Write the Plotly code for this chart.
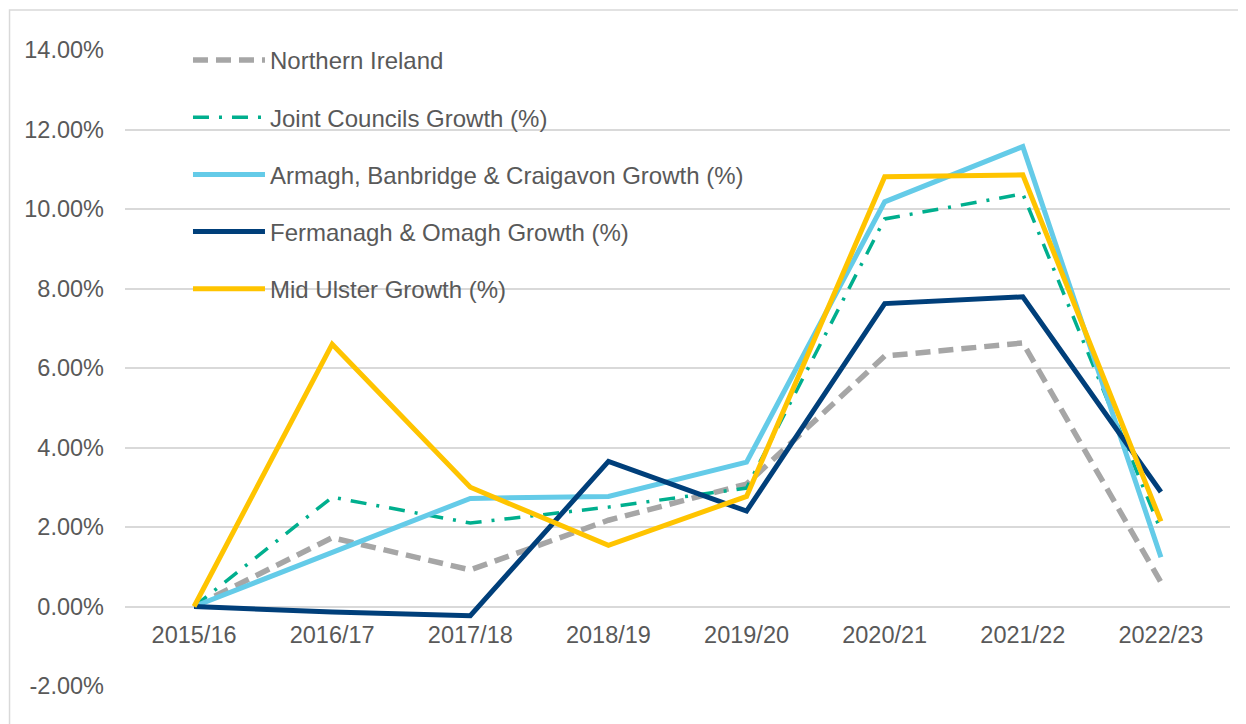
import plotly.graph_objects as go

categories = ["2015/16", "2016/17", "2017/18", "2018/19", "2019/20", "2020/21", "2021/22", "2022/23"]

northern_ireland = [0.00, 1.73, 0.92, 2.17, 3.08, 6.30, 6.63, 0.61]
joint_councils = [0.00, 2.75, 2.10, 2.50, 2.98, 9.75, 10.38, 1.91]
abc_growth = [0.00, 1.36, 2.72, 2.77, 3.63, 10.18, 11.57, 1.24]
fo_growth = [0.00, -0.14, -0.23, 3.65, 2.40, 7.62, 7.79, 2.88]
mu_growth = [0.00, 6.60, 3.00, 1.54, 2.77, 10.81, 10.86, 2.14]

series_names = [
    "Northern Ireland",
    "Joint Councils Growth (%)",
    "Armagh, Banbridge & Craigavon Growth (%)",
    "Fermanagh & Omagh Growth (%)",
    "Mid Ulster Growth (%)",
]

y_tick_vals = [-2, 0, 2, 4, 6, 8, 10, 12, 14]
y_tick_text = ["-2.00%", "0.00%", "2.00%", "4.00%", "6.00%", "8.00%", "10.00%", "12.00%", "14.00%"]

FONT = "Liberation Sans, Arial, sans-serif"
TXT = "#595959"

styles = [
    dict(color="#A6A6A6", width=5.5, dash="15px,8px"),
    dict(color="#00AF8E", width=3.5, dash="16px,10px,3px,10px"),
    dict(color="#64CBE8", width=5, dash="solid"),
    dict(color="#003F7A", width=5, dash="solid"),
    dict(color="#FFC400", width=5, dash="solid"),
]
data = [northern_ireland, joint_councils, abc_growth, fo_growth, mu_growth]

fig = go.Figure()
for i, (name, vals, st) in enumerate(zip(series_names, data, styles)):
    fig.add_trace(go.Scatter(
        x=categories, y=vals, name=name, mode="lines",
        line=dict(color=st["color"], width=st["width"], dash=st["dash"]),
        legendgroup=f"g{i}",
    ))

fig.update_layout(
    width=1246, height=724,
    margin=dict(l=117, r=24, t=42, b=46, autoexpand=False),
    paper_bgcolor="white", plot_bgcolor="white",
    font=dict(family=FONT, size=23.5, color=TXT),
    showlegend=True,
    legend=dict(
        x=0.057, y=1.019, xanchor="left", yanchor="top",
        bgcolor="rgba(0,0,0,0)", borderwidth=0,
        font=dict(family=FONT, size=24, color=TXT),
        itemwidth=72, tracegroupgap=23,
        traceorder="grouped",
    ),
    xaxis=dict(
        type="category", anchor="free", position=0.125,
        showgrid=False, showline=False, zeroline=False,
        ticks="", ticklabelstandoff=12, automargin=False,
        tickfont=dict(family=FONT, size=23.5, color=TXT),
        range=[-0.5, 7.5],
    ),
    yaxis=dict(
        range=[-2, 14], tickvals=y_tick_vals, ticktext=y_tick_text,
        showgrid=True, gridcolor="#D9D9D9", gridwidth=1.5,
        zeroline=True, zerolinecolor="#D9D9D9", zerolinewidth=1.5,
        showline=False, ticks="", ticklabelstandoff=20, automargin=False,
        tickfont=dict(family=FONT, size=23.5, color=TXT),
    ),
    shapes=[dict(
        type="rect", xref="paper", yref="paper",
        x0=-0.1045, x1=1.06, y0=-0.1, y1=1.0629,
        line=dict(color="#D9D9D9", width=1.5), fillcolor="rgba(0,0,0,0)",
        layer="below",
    )],
)

fig.write_html("out.html")
